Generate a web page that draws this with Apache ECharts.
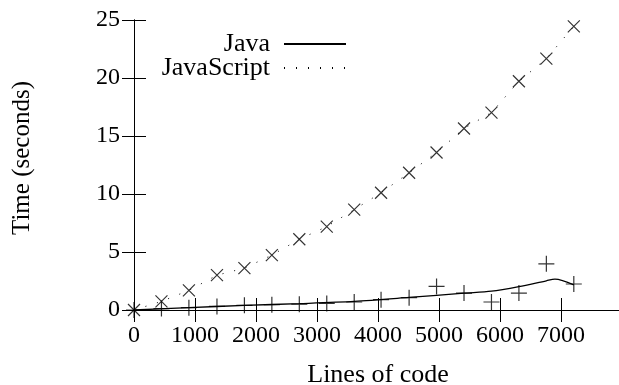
<!DOCTYPE html>
<html>
<head>
<meta charset="utf-8">
<script src="https://cdn.jsdelivr.net/npm/echarts@6/dist/echarts.min.js"></script>
<style>
  html, body { margin: 0; padding: 0; background: #fff; }
  #chart { width: 619px; height: 385px; }
</style>
</head>
<body>
<div id="chart"></div>
<script>
// lines of code for each measurement
const linesX = [0, 450, 900, 1360, 1810, 2260, 2710, 3160, 3610, 4050, 4510, 4960, 5410, 5860, 6310, 6760, 7210];
// measured times (seconds)
const javaTimes = [0, 0.12, 0.2, 0.31, 0.4, 0.46, 0.5, 0.57, 0.69, 0.89, 1.06, 2.03, 1.46, 0.69, 1.46, 3.98, 2.24];
const jsTimes = [0, 0.74, 1.69, 3.0, 3.61, 4.73, 6.1, 7.19, 8.65, 10.11, 11.83, 13.58, 15.65, 17.02, 19.72, 21.67, 24.45];
// smoothed java curve
const javaCurveX = [0, 900, 1810, 2710, 3610, 4510, 5410, 5860, 6310, 6760, 6900, 7210];
const javaCurveY = [0, 0.2, 0.4, 0.55, 0.74, 1.08, 1.45, 1.62, 2.02, 2.52, 2.66, 2.17];

const xTicks = { min: 0, max: 8000, interval: 1000 };
const yTicks = { min: 0, max: 25, interval: 5 };

const font = "'Liberation Serif', 'Times New Roman', serif";

function pairs(xs, ys) {
  return xs.map((x, i) => [x, ys[i]]);
}

let myChart = echarts.init(document.getElementById('chart'));

const axisLine = { show: true, lineStyle: { color: '#000', width: 1 } };
const tick = { show: true, inside: true, length: 12, lineStyle: { color: '#000', width: 1 } };
const legendText = { fontFamily: font, fontSize: 26, color: '#000', padding: [0, 9, 0, 0] };

myChart.setOption({
  animation: false,
  grid: { left: 134, top: 20, right: -3, bottom: 75, outerBoundsMode: 'none' },
  legend: [
    {
      data: ['Java'],
      right: 272, top: 31, padding: 0,
      align: 'right',
      itemWidth: 62, itemHeight: 14,
      itemStyle: { opacity: 0 },
      textStyle: legendText
    },
    {
      data: ['JavaScript'],
      right: 272, top: 55, padding: 0,
      align: 'right',
      itemWidth: 62, itemHeight: 14,
      itemStyle: { opacity: 0 },
      textStyle: legendText
    }
  ],
  graphic: [{
    type: 'text',
    x: 22, y: 158,
    rotation: Math.PI / 2,
    style: {
      text: 'Time (seconds)',
      font: '25px ' + font,
      fill: '#000',
      align: 'center',
      verticalAlign: 'middle'
    }
  }],
  xAxis: [
    {
      type: 'value', position: 'bottom',
      min: xTicks.min, max: xTicks.max, interval: xTicks.interval,
      name: 'Lines of code', nameLocation: 'middle', nameGap: 52,
      nameTextStyle: { fontFamily: font, fontSize: 26, color: '#000' },
      axisLine: axisLine, axisTick: tick,
      axisLabel: {
        fontFamily: font, fontSize: 24, color: '#000', margin: 14, showMaxLabel: false,
        formatter: v => String(v)
      },
      splitLine: { show: false }
    },
    {
      type: 'value', position: 'top',
      min: xTicks.min, max: xTicks.max, interval: xTicks.interval,
      axisLine: axisLine, axisTick: tick,
      axisLabel: { show: false },
      splitLine: { show: false }
    }
  ],
  yAxis: [
    {
      type: 'value', position: 'left',
      min: yTicks.min, max: yTicks.max, interval: yTicks.interval,
      axisLine: axisLine, axisTick: tick,
      axisLabel: { fontFamily: font, fontSize: 24, color: '#000', margin: 14 },
      splitLine: { show: false }
    },
    {
      type: 'value', position: 'right',
      min: yTicks.min, max: yTicks.max, interval: yTicks.interval,
      axisLine: axisLine, axisTick: tick,
      axisLabel: { show: false },
      splitLine: { show: false }
    }
  ],
  series: [
    {
      name: 'Java',
      type: 'line',
      smooth: 0.3,
      symbol: 'none',
      lineStyle: { color: '#000', width: 1.3 },
      itemStyle: { color: '#000' },
      data: pairs(javaCurveX, javaCurveY)
    },
    {
      name: 'JavaScript',
      type: 'line',
      symbol: 'none',
      lineStyle: { color: '#000', width: 1, type: [1, 11] },
      itemStyle: { color: '#000' },
      data: pairs(linesX, jsTimes)
    },
    {
      name: 'Java points',
      type: 'scatter',
      symbol: 'path://M0,8L16,8M8,0L8,16',
      symbolSize: 16,
      itemStyle: { color: 'none', borderColor: '#000', borderWidth: 1.2 },
      data: pairs(linesX, javaTimes)
    },
    {
      name: 'JavaScript points',
      type: 'scatter',
      symbol: 'path://M0,0L12,12M12,0L0,12',
      symbolSize: 12,
      itemStyle: { color: 'none', borderColor: '#000', borderWidth: 1.2 },
      data: pairs(linesX, jsTimes)
    }
  ]
});
</script>
</body>
</html>
